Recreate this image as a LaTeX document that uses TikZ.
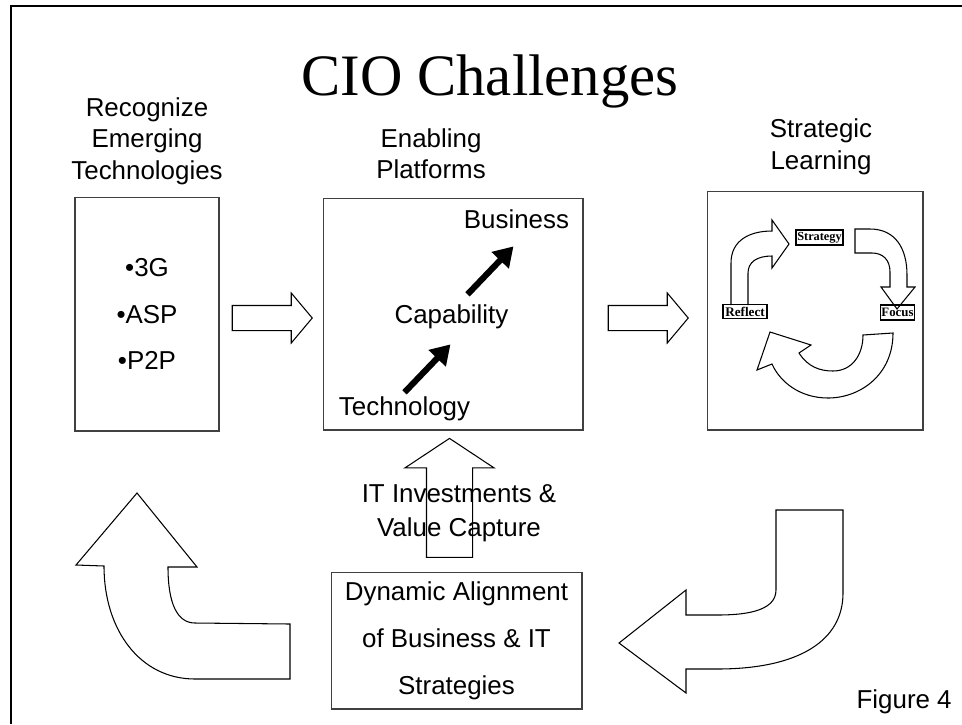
\documentclass[tikz,border=0pt]{standalone}
\usepackage{fontspec}
\setmainfont{Liberation Sans}
\newfontfamily\seriffont{Liberation Serif}
\usepackage{tikz}
\usetikzlibrary{positioning,calc,shapes.arrows,arrows.meta}
\tikzset{
  box/.style={draw=black!75, line width=0.6pt, inner sep=0pt},
  head/.style={align=center, inner sep=0pt, font=\fontsize{14.75}{17.9}\selectfont},
  lbl/.style={inner sep=2pt, font=\fontsize{14.75}{17.9}\selectfont},
  tag/.style={draw, line width=1.1pt, inner sep=0pt, font=\seriffont\bfseries\fontsize{7}{8}\selectfont},
  fatarrow/.style={line width=3.5pt, -{Triangle[length=11pt,width=13pt]}},
  blockarrow/.style={single arrow, draw, line width=0.6pt, inner xsep=0pt},
  bigarrow/.style={draw, line width=0.6pt, line join=miter}
}

\begin{document}
\begin{tikzpicture}[x=0.02cm, y=-0.02cm]
  \useasboundingbox (0,0) rectangle (962,724);
  % frame
  \draw[line width=1.2pt] (11,724) |- (962,6);
  % title
  \node[anchor=base, font=\seriffont\fontsize{33.4}{40}\selectfont] (title) at (490,95) {CIO Challenges};
  % boxes
  \node[box, minimum width=2.88cm, minimum height=4.68cm, align=center, font=\fontsize{14.75}{26.7}\selectfont] (emerge) at (147,314) {•3G\\•ASP\\•P2P};
  \node[box, minimum width=5.2cm, minimum height=4.64cm] (platform) at (453,314) {};
  \node[box, minimum width=4.32cm, minimum height=4.78cm] (learn) at (815,310.5) {};
  \node[box, minimum width=5.02cm, minimum height=2.74cm, align=center, font=\fontsize{14.75}{26.7}\selectfont] (dynalign) at (456.5,640.5) {Dynamic Alignment\\of Business \& IT\\Strategies};
  % headers
  \node[head, above=0.23cm of emerge] (emergehead) {Recognize\\Emerging\\Technologies};
  \node[head, above=0.36cm of platform, xshift=-0.44cm] (platformhead) {Enabling\\Platforms};
  \node[head, above=0.31cm of learn, xshift=0.12cm] (learnhead) {Strategic\\Learning};
  % platform ladder
  \node[lbl, anchor=base] (business) at (516.5,228) {Business};
  \node[lbl, anchor=base] (capability) at (451.5,323) {Capability};
  \node[lbl, anchor=base] (technology) at (404.5,415) {Technology};
  \draw[fatarrow] (technology.north) -- ++(46,-48);
  \draw[fatarrow] ($(capability.north)+(16,-6)$) -- ++(46,-48);
  % block arrows
  \node[blockarrow, minimum height=1.6cm, minimum width=0.98cm, inner ysep=0.24cm, single arrow head extend=0.25cm, single arrow tip angle=100] (arrowone) at (267,318) {};
  \node[blockarrow, minimum height=1.6cm, minimum width=0.98cm, inner ysep=0.24cm, single arrow head extend=0.25cm, single arrow tip angle=100] (arrowtwo) at (643,318) {};
  \node[blockarrow, rotate=90, minimum height=2.38cm, minimum width=1.76cm, inner ysep=0.45cm, single arrow head extend=0.43cm, single arrow tip angle=113] (investarrow) at (449.5,505.5) {};
  \node[head, font=\fontsize{14.75}{19.3}\selectfont] (invest) at (459,513) {IT Investments \&\\Value Capture};
  % learning cycle
  \node[tag, minimum width=0.94cm, minimum height=0.3cm] (strategy) at (819.5,237.5) {Strategy};
  \node[tag, minimum width=0.88cm, minimum height=0.28cm, font=\seriffont\bfseries\fontsize{7.5}{8}\selectfont] (reflect) at (745,311.5) {Reflect};
  \node[tag, minimum width=0.68cm, minimum height=0.3cm, font=\seriffont\bfseries\fontsize{7.3}{8}\selectfont] (focus) at (897.5,312.5) {Focus};
  \draw[bigarrow] (731,305) -- (731,263) .. controls (731,240) and (750,231) .. (772,231) -- (772,220) -- (789,244) -- (772,268) -- (772,256) .. controls (757,256) and (748,262) .. (748,273) -- (748,305);
  \draw[bigarrow] (855,229) -- (870,229) .. controls (895,229) and (907,248) .. (907,275) -- (907,287) -- (915,287) -- (897,309) -- (881,287) -- (890,287) -- (890,272) .. controls (890,260) and (883,253) .. (872,253) -- (855,253) -- cycle;
  \draw[bigarrow] (893,333) .. controls (893,375) and (860,398) .. (828,398) .. controls (800,398) and (780,382) .. (772,364) -- (757,370) -- (770,332) -- (811,345) -- (799,353) .. controls (808,367) and (820,371) .. (833,371) .. controls (852,371) and (863,355) .. (863,335) -- cycle;
  % loop arrows
  \draw[bigarrow] (290,624) -- (195,623) .. controls (177,623) and (168,603) .. (168,567) -- (197,567) -- (137,493) -- (76,565) -- (104,566) .. controls (104,630) and (140,679) .. (195,679) -- (290,679) -- cycle;
  \draw[bigarrow] (776,510) -- (843,510) -- (843,593) .. controls (843,640) and (800,669) .. (717,669) -- (686,669) -- (686,693) -- (619,643) -- (686,590) -- (686,615) -- (717,615) .. controls (743,615) and (776,612) .. (776,590) -- cycle;
  \node[lbl, anchor=base east, inner sep=0pt] (figure) at (952,708) {Figure 4};
\end{tikzpicture}
\end{document}
